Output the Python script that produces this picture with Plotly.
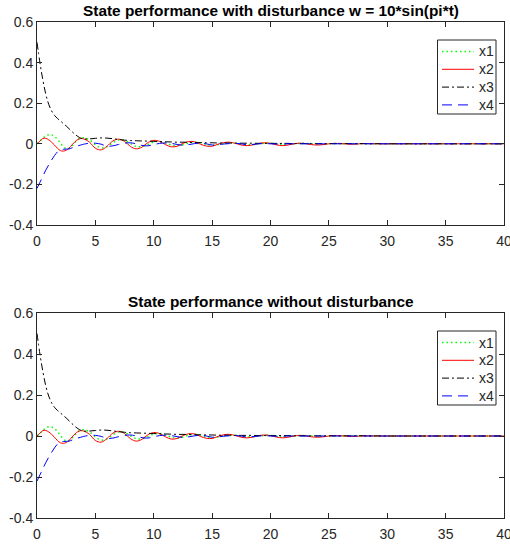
import plotly.graph_objects as go

# ---- data ----
t = [0, 0.25, 0.5, 0.75, 1, 1.25, 1.5, 1.75, 2, 2.25, 2.5, 2.75, 3, 3.25, 3.5, 3.75, 4,
     4.5, 5, 5.5, 6, 6.5, 7, 7.5, 8, 8.5, 9, 9.5, 10, 10.5, 11, 11.5, 12, 12.5, 13, 13.5,
     14, 14.5, 15, 15.5, 16, 16.5, 17, 17.5, 18, 18.5, 19, 19.5, 20, 20.5, 21, 21.5, 22,
     22.5, 23, 23.5, 24, 24.5, 25, 25.5, 26,
     27, 28, 29, 30, 31, 32, 33, 34, 35, 36, 37, 38, 39, 40]

x1 = [0, 0.012, 0.027, 0.039, 0.045, 0.044, 0.036, 0.022, 0.004, -0.014, -0.024, -0.022, -0.01,
      0.006, 0.02, 0.029, 0.03,
      0.02, -0.004, -0.02, -0.014, 0.006, 0.019, 0.017, 0.001, -0.013, -0.014, -0.003, 0.009,
      0.012, 0.005, -0.006, -0.01, -0.005, 0.004, 0.008, 0.005, -0.003, -0.007, -0.005, 0.002,
      0.005, 0.004, -0.001, -0.004, -0.004, 0.0, 0.003, 0.003, 0.0, -0.003, -0.003, 0.0,
      0.002, 0.002, 0.0, -0.002, -0.001, 0.0, 0.001, 0.001,
      0, 0, 0, 0, 0, 0, 0, 0, 0, 0, 0, 0, 0, 0]

x2 = [0, 0.014, 0.026, 0.027, 0.02, 0.008, -0.006, -0.022, -0.033, -0.036, -0.032, -0.021, -0.005,
      0.01, 0.021, 0.026, 0.024,
      0.008, -0.022, -0.03, -0.012, 0.014, 0.023, 0.012, -0.013, -0.025, -0.016, 0.006, 0.017,
      0.012, -0.004, -0.015, -0.012, 0.002, 0.011, 0.01, -0.002, -0.011, -0.012, -0.002, 0.006,
      0.008, 0.002, -0.006, -0.009, -0.005, 0.002, 0.005, 0.002, -0.005, -0.009, -0.006, 0.0,
      0.003, 0.001, -0.004, -0.006, -0.004, 0.0, 0.002, 0.001,
      -0.002, 0.001, 0, 0, 0, 0, 0, 0, 0, 0, 0, 0, 0, 0]

x3 = [0.5, 0.4, 0.315, 0.245, 0.195, 0.162, 0.14, 0.125, 0.113, 0.1, 0.088, 0.074, 0.06,
      0.047, 0.036, 0.028, 0.024,
      0.024, 0.027, 0.029, 0.028, 0.025, 0.021, 0.018, 0.016, 0.015, 0.014, 0.013, 0.012,
      0.011, 0.01, 0.009, 0.008, 0.008, 0.007, 0.006, 0.006, 0.005, 0.005, 0.004, 0.004,
      0.004, 0.003, 0.003, 0.003, 0.003, 0.002, 0.002, 0.002, 0.002, 0.002, 0.002, 0.001,
      0.001, 0.001, 0.001, 0.001, 0.001, 0.001, 0.001, 0.001,
      0.001, 0.001, 0.0005, 0, 0, 0, 0, 0, 0, 0, 0, 0, 0, 0]

x4 = [-0.22, -0.19, -0.16, -0.13, -0.104, -0.08, -0.058, -0.04, -0.03, -0.027, -0.026, -0.025,
      -0.02, -0.015, -0.01, -0.006, -0.002,
      0.003, 0.003, -0.002, -0.012, -0.01, -0.003, 0.003, 0.005, 0.0, -0.008, -0.01, -0.004,
      0.002, 0.004, 0.002, -0.003, -0.007, -0.004, 0.001, 0.003, 0.0, -0.006, -0.004, -0.001,
      0.001, 0.002, 0.0, -0.005, -0.003, 0.0, 0.001, 0.0, -0.001, -0.001, 0, 0,
      0, 0, 0, 0, 0, 0, 0, 0,
      0, 0, 0, 0, 0, 0, 0, 0, 0, 0, 0, 0, 0, 0]

series_names = ["x1", "x2", "x3", "x4"]
titles = ["State performance with disturbance w = 10*sin(pi*t)",
          "State performance without disturbance"]
x_ticks = [0, 5, 10, 15, 20, 25, 30, 35, 40]
y_ticks = [-0.4, -0.2, 0, 0.2, 0.4, 0.6]
y_ticktext = ["-0.4", "-0.2", "0", "0.2", "0.4", "0.6"]

# ---- layout geometry (pixels) ----
W, H = 510, 546
L, R, T, B = 37, 6, 22, 28
PW, PH = W - L - R, H - T - B


def px(xp):
    return (xp - L) / PW


def py(yp):
    return (H - B - yp) / PH


styles = [
    dict(color="#00ff00", dash="1.5px,3px", width=1.5),
    dict(color="#ff0000", dash="solid", width=1),
    dict(color="#000000", dash="7px,3px,2px,3px", width=1),
    dict(color="#0000ff", dash="10px,6px", width=1),
]
FONT = "Liberation Sans, Arial, sans-serif"
AX = "#262626"

fig = go.Figure()
data = [x1, x2, x3, x4]
for xa, ya in [("x", "y"), ("x2", "y2")]:
    for name, vals, st in zip(series_names, data, styles):
        fig.add_trace(go.Scatter(
            x=t, y=vals, name=name, mode="lines", xaxis=xa, yaxis=ya, showlegend=False,
            hoverinfo="skip",
            line=dict(color=st["color"], dash=st["dash"], width=st["width"], shape="spline"),
        ))

axis_common = dict(
    showgrid=False, zeroline=False, showline=True, linecolor=AX, linewidth=1,
    mirror="ticks", ticks="inside", ticklen=5, tickcolor=AX, tickwidth=1,
    tickfont=dict(family=FONT, size=14, color=AX), automargin=False,
    ticklabeloverflow="allow",
)

shapes = []
annotations = []
# manual legends (top panel top at 22px, bottom panel top at 313px)
for top in [40, 331]:
    shapes.append(dict(type="rect", xref="paper", yref="paper",
                       x0=px(437.5), x1=px(496), y0=py(top), y1=py(top + 74),
                       line=dict(color=AX, width=1), fillcolor="white", layer="above"))
    for i, (name, st) in enumerate(zip(series_names, styles)):
        yy = top + 11.5 + i * 17.8
        shapes.append(dict(type="line", xref="paper", yref="paper",
                           x0=px(442), x1=px(474), y0=py(yy), y1=py(yy),
                           line=dict(color=st["color"], dash=st["dash"], width=st["width"]),
                           layer="above"))
        annotations.append(dict(text=name, x=px(477), y=py(yy), xref="paper", yref="paper",
                                xanchor="left", yanchor="middle", showarrow=False,
                                font=dict(family=FONT, size=14, color=AX)))

for title, yc in zip(titles, [10, 301]):
    annotations.append(dict(text="<b>" + title + "</b>", x=px(270.5), y=py(yc),
                            xref="paper", yref="paper", xanchor="center", yanchor="middle",
                            showarrow=False, font=dict(family=FONT, size=15.4, color="#000000")))

fig.update_layout(
    width=W, height=H,
    margin=dict(l=L, r=R, t=T, b=B),
    paper_bgcolor="white", plot_bgcolor="white",
    font=dict(family=FONT, size=14, color=AX),
    hovermode=False,
    xaxis=dict(domain=[0, 1], range=[0, 40], tickvals=x_ticks, anchor="y",
               ticklabelstandoff=3, **axis_common),
    yaxis=dict(domain=[py(225), 1], range=[-0.4, 0.6], tickvals=y_ticks,
               ticktext=y_ticktext, anchor="x", **axis_common),
    xaxis2=dict(domain=[0, 1], range=[0, 40], tickvals=x_ticks, anchor="y2",
                ticklabelstandoff=3, **axis_common),
    yaxis2=dict(domain=[0, py(313)], range=[-0.4, 0.6], tickvals=y_ticks,
                ticktext=y_ticktext, anchor="x2", **axis_common),
    shapes=shapes,
    annotations=annotations,
    showlegend=False,
)

fig.write_html("out.html", config={"displayModeBar": False},
               post_script="document.body.style.margin='0';document.body.style.overflow='hidden';")
